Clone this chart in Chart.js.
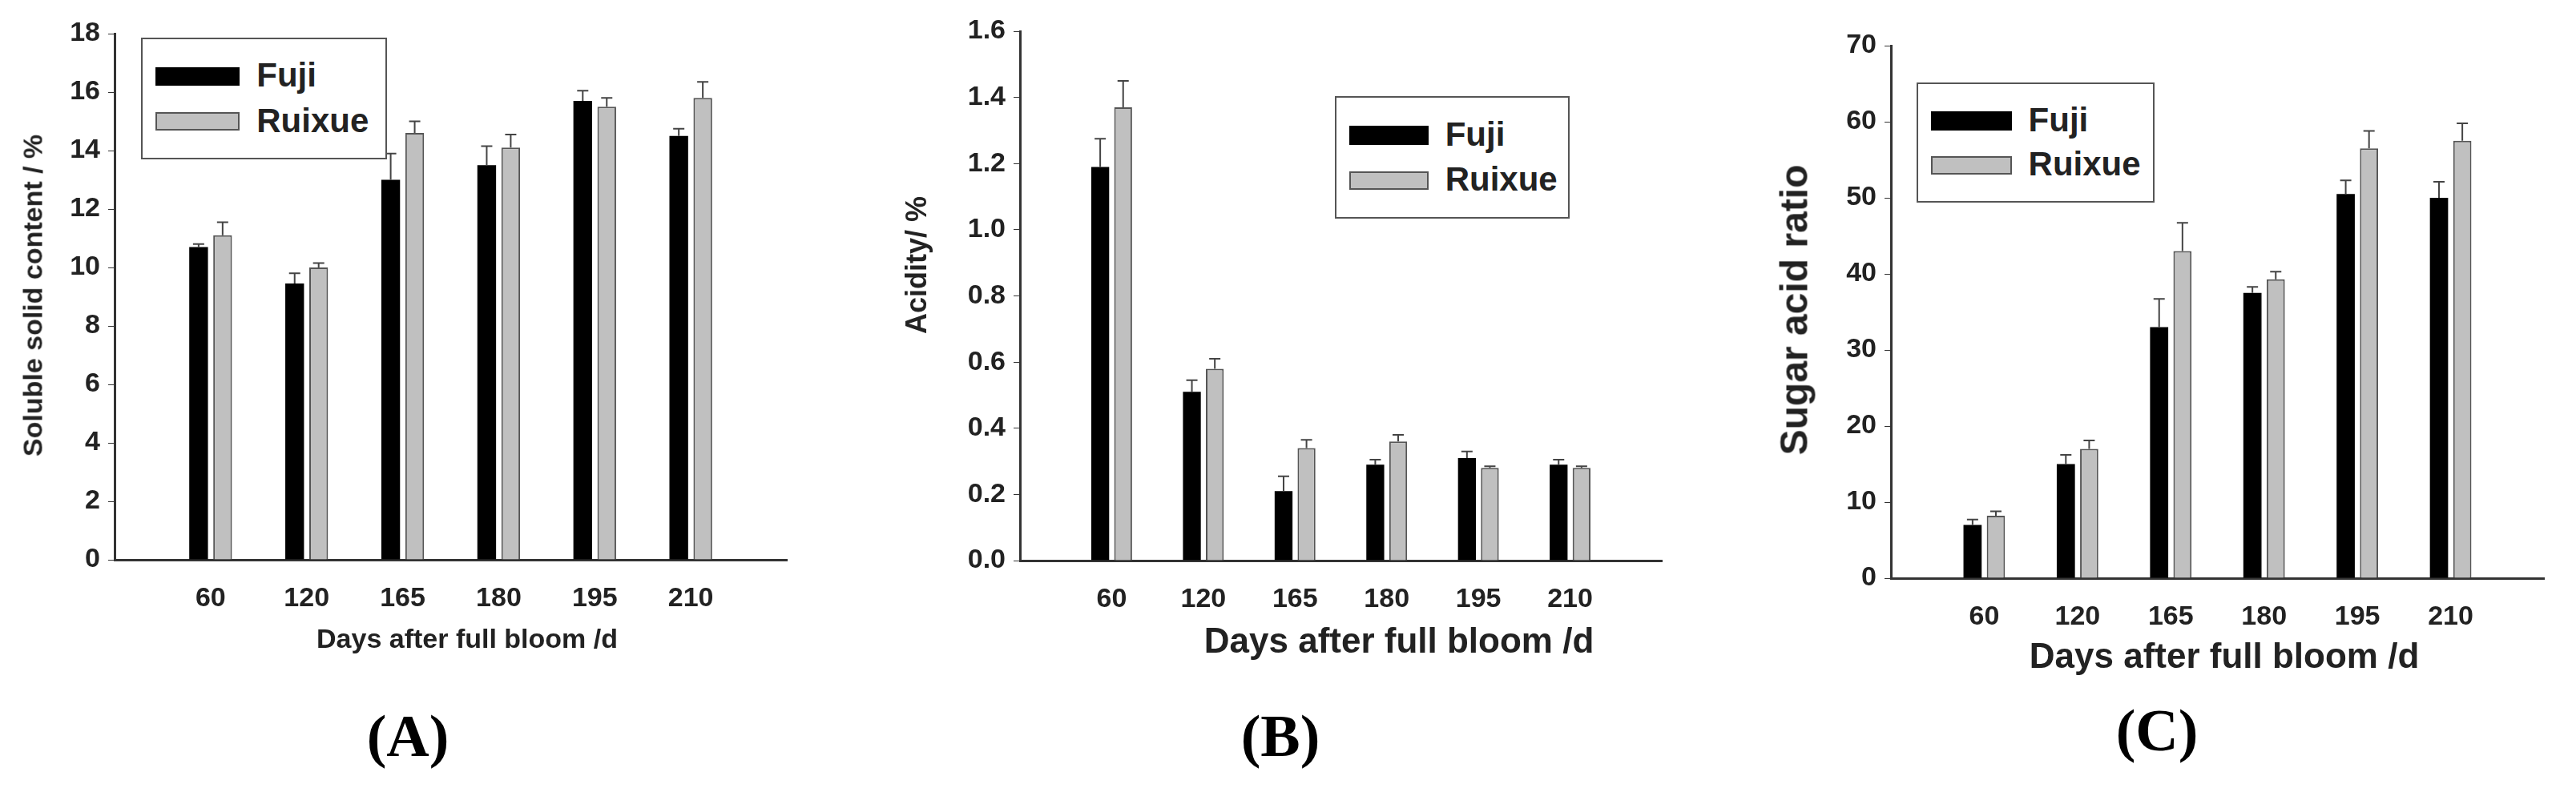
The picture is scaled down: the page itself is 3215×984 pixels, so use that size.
<!DOCTYPE html>
<html><head><meta charset="utf-8">
<script src="https://cdn.jsdelivr.net/npm/chart.js@4"></script>
<style>
body{margin:0;background:#fff;width:3215px;height:984px;position:relative;overflow:hidden;font-family:"Liberation Sans",Arial,sans-serif;}
.pane{position:absolute;top:0;height:984px;}
.t{position:absolute;font-weight:bold;color:#222;white-space:nowrap;transform:translate(-50%,-50%);}
.yt{position:absolute;font-weight:bold;color:#222;white-space:nowrap;transform:translate(-50%,-50%) rotate(-90deg);}
.lab{position:absolute;font-family:"Liberation Serif",serif;font-weight:bold;font-size:74px;transform:translate(-50%,-50%);color:#000;}
.leg{position:absolute;border:2px solid #555;background:#fff;box-sizing:border-box;}
.li{position:absolute;font-weight:bold;color:#222;}
.sw{position:absolute;box-sizing:border-box;}
</style></head><body>
<div class="pane" style="left:0;width:1010px"><canvas id="cA"></canvas></div>
<div class="pane" style="left:1072px;width:1030px"><canvas id="cB"></canvas></div>
<div class="pane" style="left:2143px;width:1060px"><canvas id="cC"></canvas></div>
<div id="overlay"></div>
<script>
const categories = ['', '60', '120', '165', '180', '195', '210', ''];
const seriesNames = ['Fuji', 'Ruixue'];
// Panel A: soluble solid content (%)
const sscFuji   = [null, 10.7, 9.45, 13.0, 13.5, 15.7, 14.5, null];
const sscRuixue = [null, 11.1, 10.0, 14.6, 14.1, 15.5, 15.8, null];
const sscFujiErr   = [0, 0.1, 0.35, 0.9, 0.65, 0.35, 0.25, 0];
const sscRuixueErr = [0, 0.45, 0.15, 0.4, 0.45, 0.3, 0.55, 0];
const sscTicks = [0, 2, 4, 6, 8, 10, 12, 14, 16, 18];
// Panel B: acidity (%)
const acidFuji   = [null, 1.19, 0.51, 0.21, 0.29, 0.31, 0.29, null];
const acidRuixue = [null, 1.37, 0.58, 0.34, 0.36, 0.28, 0.28, null];
const acidFujiErr   = [0, 0.085, 0.035, 0.045, 0.015, 0.02, 0.015, 0];
const acidRuixueErr = [0, 0.08, 0.03, 0.025, 0.02, 0.005, 0.005, 0];
const acidTicks = [0, 0.2, 0.4, 0.6, 0.8, 1.0, 1.2, 1.4, 1.6];
// Panel C: sugar acid ratio
const ratioFuji   = [null, 7.0, 15.0, 33.0, 37.5, 50.5, 50.0, null];
const ratioRuixue = [null, 8.2, 17.0, 43.0, 39.3, 56.5, 57.5, null];
const ratioFujiErr   = [0, 0.7, 1.2, 3.7, 0.8, 1.8, 2.1, 0];
const ratioRuixueErr = [0, 0.6, 1.1, 3.7, 1.0, 2.3, 2.3, 0];
const ratioTicks = [0, 10, 20, 30, 40, 50, 60, 70];

const errPlugin = {
  id: 'err',
  afterDatasetsDraw(chart) {
    const ctx = chart.ctx, y = chart.scales.y;
    chart.data.datasets.forEach((ds, di) => {
      const meta = chart.getDatasetMeta(di);
      meta.data.forEach((bar, i) => {
        const v = ds.data[i], e = ds.err[i];
        if (v == null || !e) return;
        const x = bar.x, y0 = y.getPixelForValue(v), y1 = y.getPixelForValue(v + e);
        ctx.save(); ctx.strokeStyle = '#444'; ctx.lineWidth = 2;
        ctx.beginPath(); ctx.moveTo(x, y0); ctx.lineTo(x, y1);
        ctx.moveTo(x - 7, y1); ctx.lineTo(x + 7, y1); ctx.stroke(); ctx.restore();
      });
    });
  }
};

function make(id, w, f, r, fe, re, ticks, top, yw, bottom, fmt) {
  const el = document.getElementById(id);
  el.width = w; el.height = 984; el.style.width = w + 'px'; el.style.height = '984px';
  new Chart(el, {
    type: 'bar',
    data: { labels: categories, datasets: [
      { label: seriesNames[0], data: f, err: fe, backgroundColor: '#000', borderColor: '#000', borderWidth: 0, barPercentage: 0.78, categoryPercentage: 0.5 },
      { label: seriesNames[1], data: r, err: re, backgroundColor: '#c0c0c0', borderColor: '#555', borderWidth: 2, borderSkipped: 'bottom', barPercentage: 0.78, categoryPercentage: 0.5 }
    ]},
    options: {
      responsive: false, animation: false, devicePixelRatio: 1,
      layout: { padding: { top: top, right: 3, left: 0, bottom: 0 } },
      plugins: { legend: { display: false }, tooltip: { enabled: false } },
      scales: {
        x: { offset: false, grid: { display: false, drawTicks: false }, border: { color: '#333', width: 3 },
             ticks: { padding: 28, maxRotation: 0, autoSkip: false, color: '#222', font: { family: 'Liberation Sans', weight: 'bold', size: 34 } },
             afterFit: s => { s.height = 984 - bottom - top * 0; } },
        y: { min: ticks[0], max: ticks[ticks.length - 1], afterBuildTicks: s => { s.ticks = ticks.map(v => ({ value: v })); },
             grid: { drawOnChartArea: false, tickLength: 8, color: '#333' }, border: { color: '#333', width: 3 },
             ticks: { padding: 10, color: '#222', callback: fmt, font: { family: 'Liberation Sans', weight: 'bold', size: 34 } },
             afterFit: s => { s.width = yw; } }
      }
    },
    plugins: [errPlugin]
  });
}
make('cA', 1010, sscFuji, sscRuixue, sscFujiErr, sscRuixueErr, sscTicks, 42, 143, 699, v => v);
make('cB', 1030, acidFuji, acidRuixue, acidFujiErr, acidRuixueErr, acidTicks, 39, 201, 700, v => v.toFixed(1));
make('cC', 1060, ratioFuji, ratioRuixue, ratioFujiErr, ratioRuixueErr, ratioTicks, 57, 217, 722, v => v);

const ov = document.getElementById('overlay');
function add(html) { ov.insertAdjacentHTML('beforeend', html); }
function legend(x, y, w, h, fs) {
  add(`<div class="leg" style="left:${x}px;top:${y}px;width:${w}px;height:${h}px"></div>`);
  const sw = w * 0.34, sh = fs * 0.55;
  [['#000', '#000'], ['#c0c0c0', '#555']].forEach((c, i) => {
    const cy = y + h * (0.32 + i * 0.37);
    add(`<div class="sw" style="left:${x + w * 0.06}px;top:${cy - sh / 2}px;width:${sw}px;height:${sh}px;background:${c[0]};border:2px solid ${c[1]}"></div>`);
    add(`<div class="li" style="left:${x + w * 0.47}px;top:${cy - fs * 0.6}px;font-size:${fs}px">${seriesNames[i]}</div>`);
  });
}
// Panel A
add(`<div class="yt" style="left:41px;top:369px;font-size:34px">Soluble solid content / %</div>`);
add(`<div class="t" style="left:583px;top:797px;font-size:34px">Days after full bloom /d</div>`);
add(`<div class="lab" style="left:509px;top:919px">(A)</div>`);
legend(176, 47, 307, 152, 42);
// Panel B
add(`<div class="yt" style="left:1144px;top:331px;font-size:36px">Acidity/ %</div>`);
add(`<div class="t" style="left:1746px;top:800px;font-size:44px">Days after full bloom /d</div>`);
add(`<div class="lab" style="left:1598px;top:919px">(B)</div>`);
legend(1666, 120, 293, 153, 42);
// Panel C
add(`<div class="yt" style="left:2239px;top:387px;font-size:48px">Sugar acid ratio</div>`);
add(`<div class="t" style="left:2776px;top:819px;font-size:44px">Days after full bloom /d</div>`);
add(`<div class="lab" style="left:2692px;top:912px">(C)</div>`);
legend(2392, 103, 297, 150, 42);
</script></body></html>
